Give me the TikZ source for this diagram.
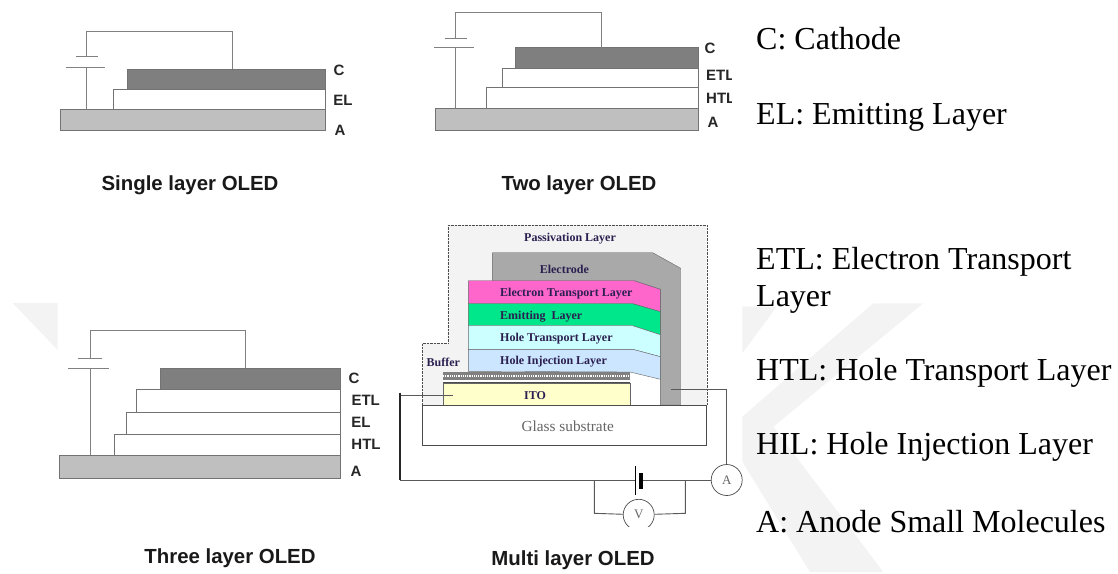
\documentclass[tikz,border=0pt]{standalone}
\usepackage{fontspec}
\setmainfont{Liberation Serif}
\setsansfont{Liberation Sans}
\usepackage{xcolor}
\definecolor{watergray}{HTML}{F3F3F3}
\definecolor{passivfill}{HTML}{F3F3F3}
\definecolor{cathodegray}{HTML}{7F7F7F}
\definecolor{anodegray}{HTML}{BFBFBF}
\definecolor{electrodegray}{HTML}{A9A9A9}
\definecolor{etlpink}{HTML}{FF66CC}
\definecolor{emitgreen}{HTML}{00E68A}
\definecolor{htlcyan}{HTML}{CCFFFF}
\definecolor{hilblue}{HTML}{CCE6FF}
\definecolor{itoyellow}{HTML}{FFFFCC}
\definecolor{layerink}{HTML}{2B1F50}
\definecolor{linegray}{HTML}{808080}
\tikzset{
  wire/.style={draw=linegray,line width=1pt},
  stackwire/.style={draw=black!65,line width=0.9pt},
  layerbox/.style={draw=black!55,line width=1pt},
  tag/.style={font=\sffamily\bfseries\fontsize{15}{16}\selectfont,text=black!85,inner sep=0pt},
  caption/.style={font=\sffamily\bfseries\fontsize{20.4}{22}\selectfont,text=black!90,inner sep=0pt},
  inlayer/.style={font=\bfseries\fontsize{12}{13}\selectfont,text=layerink,inner sep=0pt},
  legend/.style={font=\fontsize{32}{36}\selectfont,anchor=base west,inner sep=0pt},
  meter/.style={circle,draw=black!70,line width=0.7pt,fill=white,minimum size=31pt,inner sep=0pt,font=\fontsize{13}{13}\selectfont,text=black!60},
}
\begin{document}
\begin{tikzpicture}[x=1pt,y=-1pt]
\useasboundingbox (0,0) rectangle (1118,573);
\fill[white] (0,0) rectangle (1118,573);
% faint marks behind the drawing
\fill[watergray] (12.7,303) -- (57.7,303) -- (57.7,350) -- cycle;
\fill[watergray] (742.3,306.7) -- (776.7,306.7) -- (742.3,353.3) -- cycle;
\fill[watergray] (873.3,303.3) -- (923.3,303.3) -- (773.3,426.7) -- (883.3,572) -- (810,572) -- (742.3,461.7) -- (742.3,416.7) -- cycle;
% single layer
\draw[layerbox,fill=anodegray] (60.5,109) rectangle (325,130);
\draw[layerbox,fill=white] (113,89) rectangle (325,109);
\draw[layerbox,fill=cathodegray] (127.7,69) rectangle (325,89);
\coordinate (sa) at (86.7,109);
\coordinate (sb) at (86.7,67.3);
\coordinate (sc) at (86.7,56.7);
\coordinate (sd) at (232.7,69);
\draw[wire] (sa) -- (sb);
\draw[wire] (65.7,67.3) -- (104.7,67.3);
\draw[wire] (76,56.7) -- (98,56.7);
\draw[wire] (sc) -- (86.7,31.7) -- (232.7,31.7) -- (sd);
\node[tag] (sC) at (339,70) {C};
\node[tag] (sEL) at (343,100) {EL};
\node[tag] (sA) at (340,130) {A};
\node[caption] (scap) at (190,185) {Single layer OLED};
% two layer
\draw[layerbox,fill=anodegray] (435.7,108) rectangle (698.7,130);
\draw[layerbox,fill=white] (486.7,87.7) rectangle (698.7,108);
\draw[layerbox,fill=white] (502.3,68.7) rectangle (698.7,87.7);
\draw[layerbox,fill=cathodegray] (515,47.7) rectangle (698.7,68.7);
\coordinate (ta) at (455.7,108);
\coordinate (tb) at (455.7,47.7);
\coordinate (tc) at (455.7,38.3);
\coordinate (td) at (601.7,47.7);
\draw[wire] (ta) -- (tb);
\draw[wire] (434.3,47.7) -- (473.7,47.7);
\draw[wire] (444.7,38.3) -- (467,38.3);
\draw[wire] (tc) -- (455.7,12) -- (601.7,12) -- (td);
\node[tag] (tC) at (710,48) {C};
\begin{scope}
\clip (700,60) rectangle (731,110);
\node[tag,anchor=west] (tETL) at (706,75) {ETL};
\node[tag,anchor=west] (tHTL) at (706,98) {HTL};
\end{scope}
\node[tag] (tA) at (713,122) {A};
\node[caption] (tcap) at (579,185) {Two layer OLED};
% three layer
\draw[layerbox,fill=anodegray] (59,455) rectangle (340,478.3);
\draw[layerbox,fill=white] (114,434) rectangle (340,455);
\draw[layerbox,fill=white] (126,412) rectangle (340,434);
\draw[layerbox,fill=white] (136.7,389.7) rectangle (340,412);
\draw[layerbox,fill=cathodegray] (160.7,368.3) rectangle (340,389.7);
\coordinate (ha) at (90.3,455);
\coordinate (hb) at (90.3,368.7);
\coordinate (hc) at (90.3,358.3);
\coordinate (hd) at (245.7,368.3);
\draw[wire] (ha) -- (hb);
\draw[wire] (67.7,368.7) -- (109,368.7);
\draw[wire] (78.3,358.3) -- (102,358.3);
\draw[wire] (hc) -- (90.3,330) -- (245.7,330) -- (hd);
\node[tag] (hC) at (354,378) {C};
\node[tag] (hETL) at (365.7,400) {ETL};
\node[tag] (hEL) at (361,422) {EL};
\node[tag] (hHTL) at (366,444.7) {HTL};
\node[tag] (hA) at (356,471.7) {A};
\node[caption] (hcap) at (230,558) {Three layer OLED};
% multi layer
\draw[black!70,densely dotted,fill=passivfill] (447.7,225) -- (706.7,225) -- (706.7,405) -- (422.3,405) -- (422.3,343.3) -- (447.7,343.3) -- cycle;
\fill[white] (630.3,373) -- (660.3,379.3) -- (660.3,405) -- (630.3,405) -- cycle;
\draw[draw=black!60,fill=electrodegray] (492.3,252.7) -- (652.7,252.7) -- (680.7,268.3) -- (680.7,405) -- (660.3,405) -- (660.3,289.3) -- (634,280.7) -- (492.3,280.7) -- cycle;
\draw[draw=black!60,fill=etlpink] (468.3,280.7) -- (634,280.7) -- (660.3,289.3) -- (660.3,311.7) -- (632.7,303.7) -- (468.3,303.7) -- cycle;
\draw[draw=black!60,fill=emitgreen] (468.3,303.7) -- (632.7,303.7) -- (660.3,311.7) -- (660.3,334.7) -- (632.7,325.7) -- (468.3,325.7) -- cycle;
\draw[draw=black!60,fill=htlcyan] (468.3,325.7) -- (632.7,325.7) -- (660.3,334.7) -- (660.3,356.7) -- (632.7,349.3) -- (468.3,349.3) -- cycle;
\draw[draw=black!60,fill=hilblue] (468.3,349.3) -- (632.7,349.3) -- (660.3,356.7) -- (660.3,379.3) -- (630.3,372) -- (468.3,371.3) -- cycle;
\fill[white] (443,371.5) rectangle (630.3,382.7);
\fill[black!50] (443,371.5) rectangle (630.3,380);
\draw[white,line width=1.2pt,densely dotted] (443,376) -- (630.3,376);
\draw[black!70,line width=1pt] (443,382.7) -- (630.3,382.7);
\draw[draw=black!60,fill=itoyellow] (443,382.7) rectangle (630.3,405);
\draw[black!70,line width=0.9pt,fill=white] (422.3,405) rectangle (706.7,445.3);
\node[inlayer] (pas) at (570,238.3) {Passivation Layer};
\node[inlayer] (ele) at (564.3,269) {Electrode};
\node[inlayer,anchor=west] (etl) at (500,294) {Electron Transport Layer};
\node[inlayer,anchor=west] (eml) at (500,316.7) {Emitting\ \ Layer};
\node[inlayer,anchor=west] (htl) at (500,339) {Hole Transport Layer};
\node[inlayer,anchor=west] (hil) at (500,361.7) {Hole Injection Layer};
\node[inlayer] (buf) at (443.3,362.7) {Buffer};
\node[inlayer] (ito) at (535,396) {ITO};
\node[font=\fontsize{15.3}{16}\selectfont,text=black!60,inner sep=0pt] (gla) at (567.7,426) {Glass substrate};
\node[meter] (amm) at (726.7,480) {A};
\node[meter] (vol) at (638.7,514.8) {V};
\fill[white] (622,526.7) rectangle (656,534);
\coordinate (ic) at (453.3,395);
\coordinate (il) at (400,395);
\coordinate (ec) at (671,389.3);
\coordinate (bl) at (635.3,480);
\coordinate (br) at (642.5,480);
\draw[stackwire] (ic) -- (il);
\draw[black!85,line width=1.5pt] (400,392.7) -- (400,480);
\draw[stackwire] (400,480) -- (bl);
\draw[stackwire] (br) -- (amm);
\draw[stackwire] (amm) -- (726.7,389.3) -- (ec);
\draw[black,line width=0.8pt] (635.3,466) -- (635.3,495);
\draw[black,line width=4pt] (640.7,472.7) -- (640.7,489.3);
\draw[stackwire] (594.3,480) -- (594.3,513.3) -- (vol);
\draw[stackwire] (vol) -- (685.3,513.3) -- (685.3,480);
\node[caption] (mcap) at (573,560.7) {Multi layer OLED};
% right hand list
\node[legend] (lc) at (756,49) {C: Cathode};
\node[legend] (lel) at (756,124) {EL: Emitting Layer};
\node[legend] (letl) at (756,269.5) {ETL: Electron Transport};
\node[legend] (letb) at (756,306.7) {Layer};
\node[legend] (lhtl) at (756,380) {HTL: Hole Transport Layer};
\node[legend] (lhil) at (756,454) {HIL: Hole Injection Layer};
\node[legend] (la) at (756,532.7) {A: Anode Small Molecules};
\end{tikzpicture}
\end{document}
